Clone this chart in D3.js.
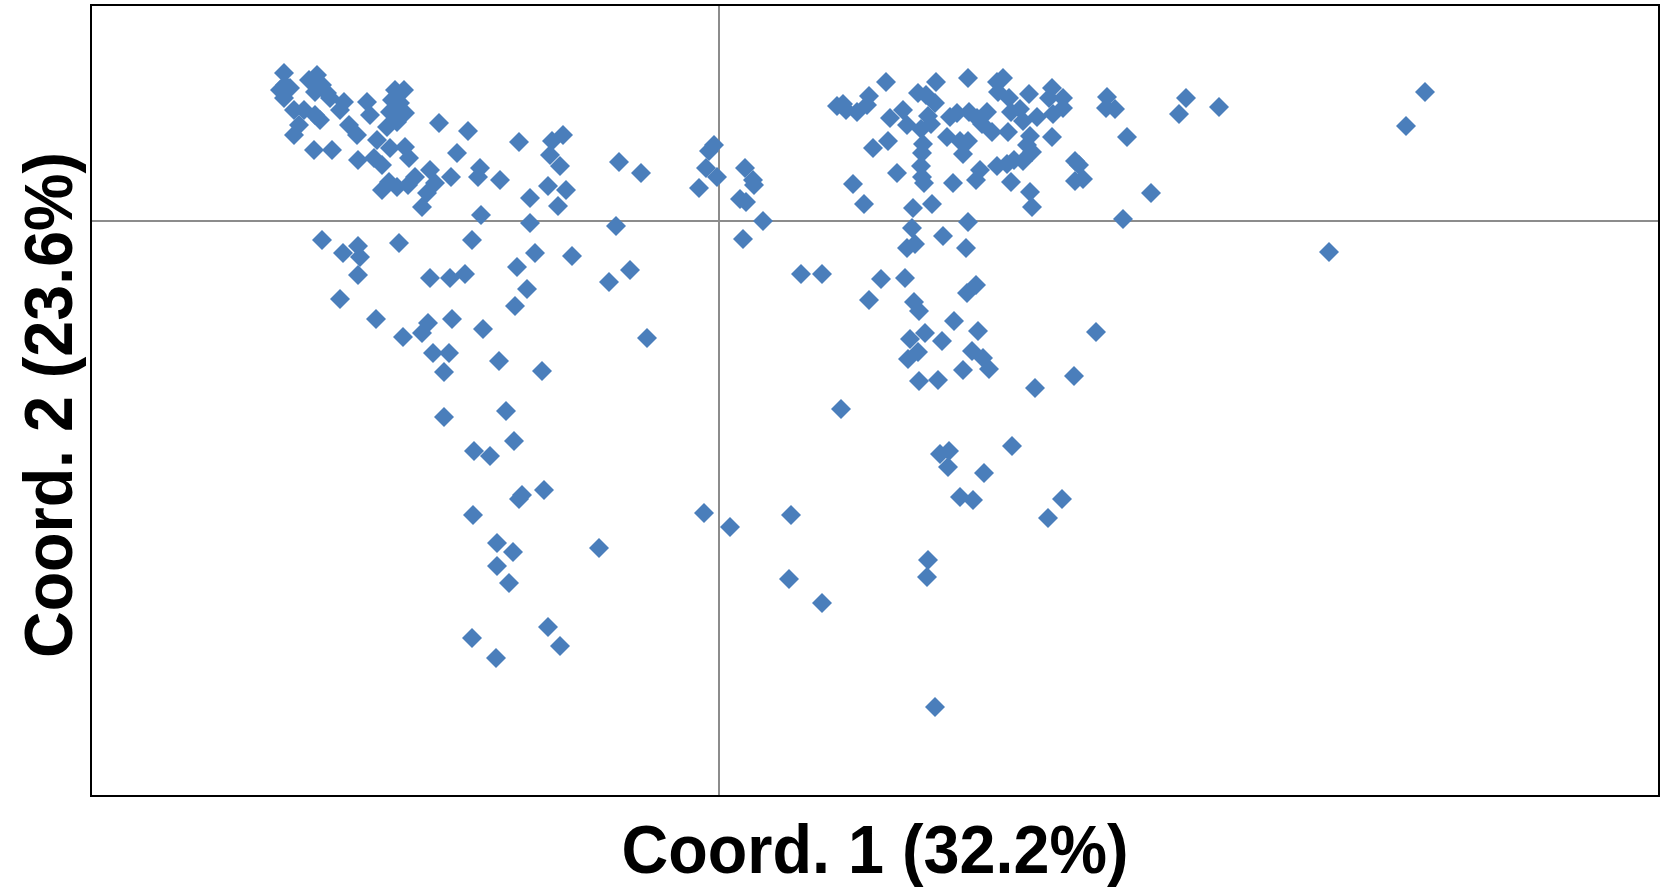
<!DOCTYPE html>
<html>
<head>
<meta charset="utf-8">
<script src="https://cdn.jsdelivr.net/npm/d3@7"></script>
<style>
  body { margin: 0; background: #fff; }
  svg { display: block; }
</style>
</head>
<body>
<svg width="1665" height="887"></svg>
<script>
// PCoA scores, axis 1 and axis 2
const coord1 = [
  -0.435, -0.439, -0.434, -0.429, -0.435, -0.425, -0.415, -0.420, -0.425, -0.410,
  -0.402, -0.397, -0.404, -0.392, -0.389, -0.399, -0.404, -0.405, -0.387, -0.375,
  -0.379, -0.370, -0.362, -0.352, -0.349, -0.342, -0.361, -0.345, -0.337, -0.324,
  -0.315, -0.327, -0.319, -0.329, -0.314, -0.322, -0.332, -0.329, -0.314, -0.310,
  -0.280, -0.337, -0.330, -0.322, -0.304, -0.289, -0.284, -0.292, -0.311, -0.297,
  -0.251, -0.262, -0.268, -0.239, -0.241, -0.219, -0.200, -0.167, -0.156, -0.169,
  -0.159, -0.153, -0.171, -0.161, -0.189, -0.189, -0.238, -0.397, -0.376, -0.361,
  -0.359, -0.320, -0.247, -0.184, -0.202, -0.361, -0.289, -0.269, -0.254, -0.100,
  -0.078, -0.005, -0.010, -0.013, -0.002, -0.020, 0.026, 0.034, 0.035, 0.021,
  0.027, 0.044, 0.024, -0.103, -0.147, -0.089, -0.110, 0.082, 0.103, 0.118,
  0.124, 0.127, 0.467, 0.460, 0.500, 0.432, 0.610, 0.687, 0.706, 0.167,
  0.150, 0.148, 0.138, 0.199, 0.207, 0.217, 0.216, 0.249, 0.278, 0.284,
  0.279, 0.290, 0.310, 0.333, 0.330, 0.344, 0.344, 0.334, 0.388, 0.387,
  0.396, 0.408, 0.171, 0.184, 0.188, 0.209, 0.202, 0.212, 0.231, 0.238,
  0.250, 0.258, 0.268, 0.263, 0.273, 0.289, 0.292, 0.301, 0.304, 0.318,
  0.311, 0.308, 0.313, 0.304, 0.333, 0.228, 0.241, 0.249, 0.244, 0.154,
  0.169, 0.204, 0.203, 0.202, 0.203, 0.205, 0.178, 0.134, 0.234, 0.257,
  0.261, 0.278, 0.288, 0.295, 0.292, 0.311, 0.313, 0.356, 0.360, 0.364,
  0.356, 0.145, 0.194, 0.213, 0.193, 0.224, 0.249, 0.196, 0.188, 0.247,
  0.404, -0.379, -0.343, -0.316, -0.297, -0.291, -0.267, -0.286, -0.270, -0.275,
  -0.192, -0.204, -0.236, -0.220, -0.177, -0.275, -0.213, -0.205, -0.245, -0.229,
  -0.197, -0.175, -0.200, -0.246, -0.222, -0.206, -0.222, -0.210, -0.120, -0.171,
  -0.159, -0.247, -0.223, -0.015, 0.011, 0.072, 0.070, 0.103, 0.209, 0.208,
  0.216, 0.241, 0.254, -0.072, 0.122, 0.162, 0.186, 0.150, 0.195, 0.200,
  0.248, 0.257, 0.235, 0.259, 0.191, 0.206, 0.199, 0.189, 0.223, 0.253,
  0.264, 0.270, 0.244, 0.200, 0.219, 0.316, 0.355, 0.377, 0.293, 0.221,
  0.230, 0.229, 0.265, 0.329, 0.343
];
const coord2 = [
  0.148, 0.131, 0.136, 0.133, 0.123, 0.111, 0.111, 0.096, 0.086, 0.141,
  0.146, 0.136, 0.129, 0.128, 0.123, 0.101, 0.106, 0.071, 0.071, 0.119,
  0.111, 0.096, 0.086, 0.119, 0.106, 0.081, 0.061, 0.063, 0.056, 0.131,
  0.131, 0.121, 0.118, 0.109, 0.108, 0.099, 0.094, 0.073, 0.074, 0.063,
  0.098, 0.031, 0.039, 0.034, 0.044, 0.051, 0.038, 0.028, 0.036, 0.014,
  0.090, 0.068, 0.044, 0.053, 0.044, 0.041, 0.079, 0.080, 0.086, 0.066,
  0.055, 0.031, 0.035, 0.015, 0.023, -0.002, 0.006, -0.019, -0.032, -0.025,
  -0.036, -0.022, -0.019, -0.032, -0.046, -0.054, -0.057, -0.057, -0.053, 0.059,
  0.048, 0.076, 0.070, 0.053, 0.044, 0.033, 0.053, 0.041, 0.036, 0.022,
  0.019, 0.000, -0.018, -0.005, -0.035, -0.049, -0.061, -0.053, -0.053, 0.115,
  0.117, 0.111, 0.123, 0.107, 0.114, 0.028, -0.031, 0.095, 0.129, 0.139,
  0.125, 0.116, 0.109, 0.128, 0.126, 0.139, 0.118, 0.143, 0.139, 0.143,
  0.129, 0.123, 0.127, 0.133, 0.123, 0.123, 0.113, 0.107, 0.124, 0.113,
  0.112, 0.084, 0.103, 0.111, 0.096, 0.105, 0.092, 0.097, 0.104, 0.108,
  0.109, 0.103, 0.109, 0.097, 0.089, 0.089, 0.109, 0.112, 0.100, 0.104,
  0.085, 0.076, 0.069, 0.060, 0.084, 0.084, 0.080, 0.080, 0.067, 0.073,
  0.080, 0.077, 0.068, 0.055, 0.044, 0.038, 0.048, 0.037, 0.038, 0.041,
  0.051, 0.055, 0.057, 0.061, 0.039, 0.029, 0.014, 0.060, 0.056, 0.042,
  0.040, 0.017, 0.013, 0.017, -0.007, -0.015, -0.001, -0.023, -0.027, -0.027,
  0.002, -0.078, -0.098, -0.116, -0.112, -0.102, -0.098, -0.132, -0.132, -0.151,
  -0.068, -0.085, -0.108, -0.140, -0.150, -0.196, -0.190, -0.220, -0.230, -0.235,
  -0.274, -0.269, -0.278, -0.294, -0.322, -0.331, -0.345, -0.362, -0.327, -0.406,
  -0.425, -0.417, -0.437, -0.292, -0.306, -0.294, -0.358, -0.382, -0.339, -0.356,
  -0.486, -0.276, -0.279, -0.117, -0.188, -0.058, -0.057, -0.079, -0.081, -0.090,
  -0.072, -0.064, -0.100, -0.110, -0.118, -0.112, -0.131, -0.138, -0.120, -0.130,
  -0.137, -0.148, -0.149, -0.160, -0.159, -0.167, -0.155, -0.111, -0.225, -0.233,
  -0.230, -0.246, -0.252, -0.297, -0.278
];
const xDomain = [-0.628, 0.940];
const yDomain = [-0.575, 0.216];
const xTitle = 'Coord. 1 (32.2%)';
const yTitle = 'Coord. 2 (23.6%)';

const svg = d3.select('svg');
const plotL = 91, plotT = 5, plotR = 1659, plotB = 796;

const x = d3.scaleLinear().domain(xDomain).range([plotL, plotR]);
const y = d3.scaleLinear().domain(yDomain).range([plotB, plotT]);

svg.append('rect')
  .attr('width', 1665).attr('height', 887).attr('fill', '#fff');

// zero lines
svg.append('line')
  .attr('x1', x(0)).attr('x2', x(0))
  .attr('y1', plotT).attr('y2', plotB)
  .attr('stroke', '#8c8c8c').attr('stroke-width', 2);
svg.append('line')
  .attr('x1', plotL).attr('x2', plotR)
  .attr('y1', y(0)).attr('y2', y(0))
  .attr('stroke', '#8c8c8c').attr('stroke-width', 2);

const points = coord1.map((c, i) => ({ c1: c, c2: coord2[i] }));
const diamond = d3.symbol(d3.symbolSquare, 200);

svg.append('g')
  .selectAll('path')
  .data(points)
  .enter()
  .append('path')
  .attr('d', diamond)
  .attr('transform', (d) => `translate(${x(d.c1)},${y(d.c2)}) rotate(45)`)
  .attr('fill', '#4a7ebb');

// plot frame
svg.append('rect')
  .attr('x', plotL).attr('y', plotT)
  .attr('width', plotR - plotL).attr('height', plotB - plotT)
  .attr('fill', 'none')
  .attr('stroke', '#000').attr('stroke-width', 2);

svg.append('text')
  .attr('x', (plotL + plotR) / 2)
  .attr('y', 873)
  .attr('text-anchor', 'middle')
  .attr('font-family', 'Liberation Sans, Arial, sans-serif')
  .attr('font-weight', 'bold')
  .attr('font-size', 68)
  .attr('textLength', 507)
  .attr('lengthAdjust', 'spacingAndGlyphs')
  .text(xTitle);

svg.append('text')
  .attr('transform', 'translate(72,405) rotate(-90)')
  .attr('text-anchor', 'middle')
  .attr('font-family', 'Liberation Sans, Arial, sans-serif')
  .attr('font-weight', 'bold')
  .attr('font-size', 68)
  .attr('textLength', 506)
  .attr('lengthAdjust', 'spacingAndGlyphs')
  .text(yTitle);
</script>
</body>
</html>
